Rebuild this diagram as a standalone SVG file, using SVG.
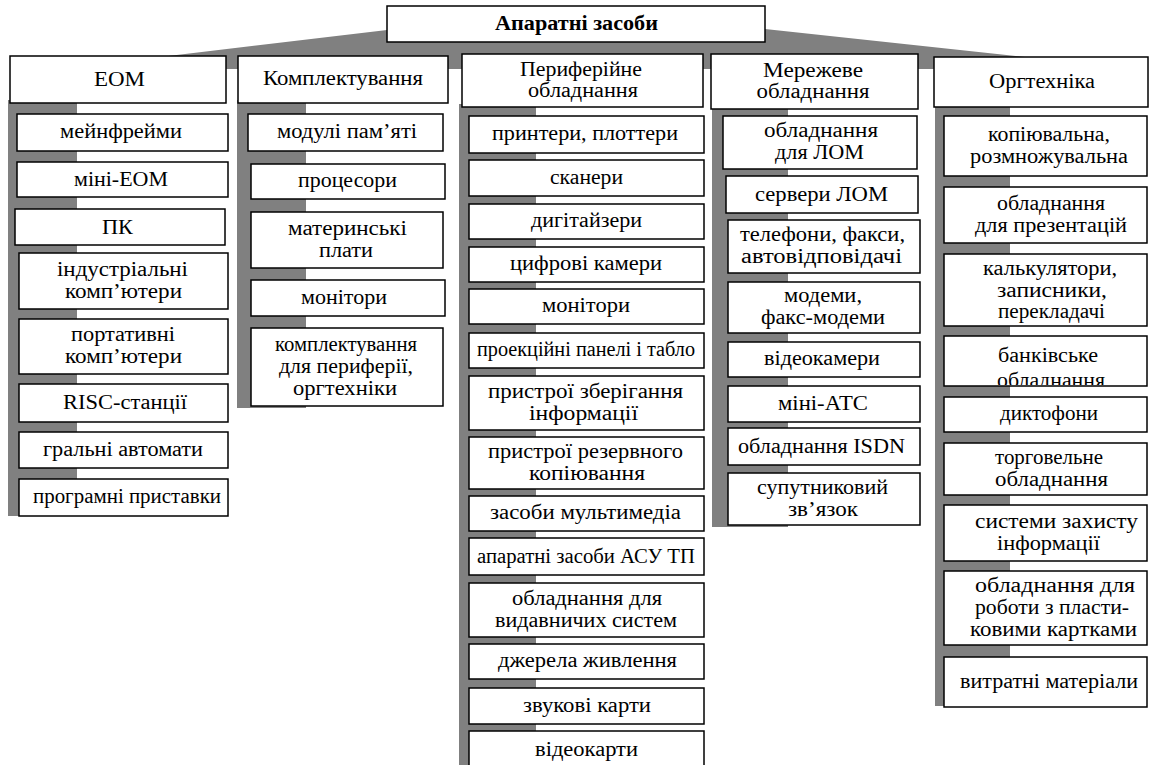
<svg xmlns="http://www.w3.org/2000/svg" width="1150" height="765" viewBox="0 0 1150 765">
  <style>
    .box{fill:#fff;stroke:#000;stroke-width:1.5}
    .band{fill:#808080}
    text{font-family:"Liberation Serif","DejaVu Serif",serif;font-size:20px;fill:#000;text-anchor:middle}
    .title{font-weight:bold}
  </style>
  <defs>
    <clipPath id="clip-bank"><rect x="945" y="337" width="201" height="48"/></clipPath>
  </defs>
  <rect width="1150" height="765" fill="#fff"/>

  <!-- grey trunk and column spines -->
  <g id="connectors">
    <polygon class="band" points="160,57 387,30 765,29 1025,57 1025,69 160,69"/>
    <rect class="band" x="8" y="100" width="69" height="416"/>
    <rect class="band" x="237" y="100" width="69" height="308"/>
    <rect class="band" x="459" y="104" width="77" height="665"/>
    <rect class="band" x="712" y="105" width="76" height="422"/>
    <rect class="band" x="935" y="104" width="75" height="602"/>
  </g>

  <!-- root -->
  <g id="root">
    <rect class="box" x="387" y="6" width="378" height="36"/>
    <text class="title" x="576.5" y="30" textLength="163" lengthAdjust="spacingAndGlyphs">Апаратні засоби</text>
  </g>

  <!-- column: ЕОМ -->
  <g id="col-eom">
    <rect class="box" x="10" y="56" width="216" height="47"/>
    <text x="119.5" y="86" textLength="51" lengthAdjust="spacingAndGlyphs">ЕОМ</text>
  </g>
  <g id="eom-1"><rect class="box" x="17" y="114" width="211" height="37"/><text x="121" y="138" textLength="122" lengthAdjust="spacingAndGlyphs">мейнфрейми</text></g>
  <g id="eom-2"><rect class="box" x="17" y="162" width="211" height="35"/><text x="121" y="185.5" textLength="94" lengthAdjust="spacingAndGlyphs">міні-ЕОМ</text></g>
  <g id="eom-3"><rect class="box" x="15" y="209" width="210" height="36"/><text x="117.5" y="233.5" textLength="31" lengthAdjust="spacingAndGlyphs">ПК</text></g>
  <g id="eom-4"><rect class="box" x="19" y="253" width="209" height="56"/>
    <text x="122.5" y="275.5" textLength="131" lengthAdjust="spacingAndGlyphs">індустріальні</text>
    <text x="123.5" y="297.5" textLength="117" lengthAdjust="spacingAndGlyphs">комп’ютери</text></g>
  <g id="eom-5"><rect class="box" x="19" y="319" width="209" height="55"/>
    <text x="123" y="341" textLength="104" lengthAdjust="spacingAndGlyphs">портативні</text>
    <text x="123.5" y="363" textLength="117" lengthAdjust="spacingAndGlyphs">комп’ютери</text></g>
  <g id="eom-6"><rect class="box" x="19" y="384" width="209" height="38"/><text x="125" y="409" textLength="124" lengthAdjust="spacingAndGlyphs">RISC-станції</text></g>
  <g id="eom-7"><rect class="box" x="19" y="432" width="209" height="36"/><text x="123" y="455.5" textLength="160" lengthAdjust="spacingAndGlyphs">гральні автомати</text></g>
  <g id="eom-8"><rect class="box" x="19" y="479" width="209" height="37"/><text x="127" y="503" textLength="188" lengthAdjust="spacingAndGlyphs">програмні приставки</text></g>

  <!-- column: Комплектування -->
  <g id="col-parts">
    <rect class="box" x="238" y="56" width="210" height="47"/>
    <text x="343" y="85" textLength="160" lengthAdjust="spacingAndGlyphs">Комплектування</text>
  </g>
  <g id="parts-1"><rect class="box" x="248" y="114" width="195" height="37"/><text x="347" y="138" textLength="140" lengthAdjust="spacingAndGlyphs">модулі пам’яті</text></g>
  <g id="parts-2"><rect class="box" x="251" y="164" width="194" height="35"/><text x="347.5" y="187" textLength="99" lengthAdjust="spacingAndGlyphs">процесори</text></g>
  <g id="parts-3"><rect class="box" x="251" y="212" width="192" height="56"/>
    <text x="347.5" y="234.5" textLength="119" lengthAdjust="spacingAndGlyphs">материнські</text>
    <text x="346" y="256.5" textLength="54" lengthAdjust="spacingAndGlyphs">плати</text></g>
  <g id="parts-4"><rect class="box" x="251" y="280" width="194" height="36"/><text x="344" y="303.5" textLength="86" lengthAdjust="spacingAndGlyphs">монітори</text></g>
  <g id="parts-5"><rect class="box" x="251" y="328" width="192" height="78"/>
    <text x="346" y="350.5" textLength="142" lengthAdjust="spacingAndGlyphs">комплектування</text>
    <text x="346" y="372.5" textLength="134" lengthAdjust="spacingAndGlyphs">для периферії,</text>
    <text x="345" y="394.5" textLength="104" lengthAdjust="spacingAndGlyphs">оргтехніки</text></g>

  <!-- column: Периферійне обладнання -->
  <g id="col-periph">
    <rect class="box" x="462" y="54" width="241" height="53"/>
    <text x="581" y="76" textLength="122" lengthAdjust="spacingAndGlyphs">Периферійне</text>
    <text x="583" y="97" textLength="110" lengthAdjust="spacingAndGlyphs">обладнання</text>
  </g>
  <g id="periph-1"><rect class="box" x="469" y="116" width="235" height="37"/><text x="585" y="140" textLength="186" lengthAdjust="spacingAndGlyphs">принтери, плоттери</text></g>
  <g id="periph-2"><rect class="box" x="469" y="160" width="235" height="36"/><text x="586.5" y="183.5" textLength="73" lengthAdjust="spacingAndGlyphs">сканери</text></g>
  <g id="periph-3"><rect class="box" x="469" y="204" width="235" height="35"/><text x="586.5" y="227" textLength="111" lengthAdjust="spacingAndGlyphs">дигітайзери</text></g>
  <g id="periph-4"><rect class="box" x="469" y="247" width="235" height="35"/><text x="586" y="270" textLength="152" lengthAdjust="spacingAndGlyphs">цифрові камери</text></g>
  <g id="periph-5"><rect class="box" x="469" y="289" width="235" height="35"/><text x="586" y="312" textLength="88" lengthAdjust="spacingAndGlyphs">монітори</text></g>
  <g id="periph-6"><rect class="box" x="469" y="333" width="235" height="35"/><text x="586" y="356" textLength="218" lengthAdjust="spacingAndGlyphs">проекційні панелі і табло</text></g>
  <g id="periph-7"><rect class="box" x="469" y="376" width="235" height="54"/>
    <text x="585.5" y="397.5" textLength="195" lengthAdjust="spacingAndGlyphs">пристрої зберігання</text>
    <text x="583.5" y="419.5" textLength="109" lengthAdjust="spacingAndGlyphs">інформації</text></g>
  <g id="periph-8"><rect class="box" x="469" y="437" width="235" height="52"/>
    <text x="585.5" y="457.5" textLength="195" lengthAdjust="spacingAndGlyphs">пристрої резервного</text>
    <text x="587" y="479.5" textLength="116" lengthAdjust="spacingAndGlyphs">копіювання</text></g>
  <g id="periph-9"><rect class="box" x="469" y="496" width="235" height="35"/><text x="585.5" y="519" textLength="191" lengthAdjust="spacingAndGlyphs">засоби мультимедіа</text></g>
  <g id="periph-10"><rect class="box" x="469" y="538" width="235" height="37"/><text x="586" y="562.5" textLength="218" lengthAdjust="spacingAndGlyphs">апаратні засоби АСУ ТП</text></g>
  <g id="periph-11"><rect class="box" x="469" y="583" width="235" height="54"/>
    <text x="587" y="604.5" textLength="150" lengthAdjust="spacingAndGlyphs">обладнання для</text>
    <text x="586" y="626.5" textLength="182" lengthAdjust="spacingAndGlyphs">видавничих систем</text></g>
  <g id="periph-12"><rect class="box" x="469" y="644" width="235" height="35"/><text x="587.5" y="667" textLength="179" lengthAdjust="spacingAndGlyphs">джерела живлення</text></g>
  <g id="periph-13"><rect class="box" x="469" y="688" width="235" height="36"/><text x="587" y="711.5" textLength="128" lengthAdjust="spacingAndGlyphs">звукові карти</text></g>
  <g id="periph-14"><rect class="box" x="469" y="731" width="235" height="40"/><text x="586.5" y="755.5" textLength="103" lengthAdjust="spacingAndGlyphs">відеокарти</text></g>

  <!-- column: Мережеве обладнання -->
  <g id="col-net">
    <rect class="box" x="711" y="54" width="207" height="55"/>
    <text x="813" y="77" textLength="100" lengthAdjust="spacingAndGlyphs">Мережеве</text>
    <text x="813" y="98" textLength="113" lengthAdjust="spacingAndGlyphs">обладнання</text>
  </g>
  <g id="net-1"><rect class="box" x="723" y="116" width="194" height="53"/>
    <text x="821" y="137" textLength="114" lengthAdjust="spacingAndGlyphs">обладнання</text>
    <text x="819.5" y="159" textLength="89" lengthAdjust="spacingAndGlyphs">для ЛОМ</text></g>
  <g id="net-2"><rect class="box" x="726" y="176" width="192" height="37"/><text x="821.5" y="200.5" textLength="133" lengthAdjust="spacingAndGlyphs">сервери ЛОМ</text></g>
  <g id="net-3"><rect class="box" x="728" y="220" width="192" height="53"/>
    <text x="822.5" y="241" textLength="165" lengthAdjust="spacingAndGlyphs">телефони, факси,</text>
    <text x="821.5" y="263" textLength="161" lengthAdjust="spacingAndGlyphs">автовідповідачі</text></g>
  <g id="net-4"><rect class="box" x="728" y="282" width="192" height="51"/>
    <text x="823" y="302" textLength="78" lengthAdjust="spacingAndGlyphs">модеми,</text>
    <text x="823" y="324" textLength="124" lengthAdjust="spacingAndGlyphs">факс-модеми</text></g>
  <g id="net-5"><rect class="box" x="728" y="342" width="192" height="35"/><text x="822" y="365" textLength="116" lengthAdjust="spacingAndGlyphs">відеокамери</text></g>
  <g id="net-6"><rect class="box" x="728" y="386" width="192" height="36"/><text x="823" y="410" textLength="90" lengthAdjust="spacingAndGlyphs">міні-АТС</text></g>
  <g id="net-7"><rect class="box" x="728" y="428" width="192" height="37"/><text x="821.5" y="452.5" textLength="167" lengthAdjust="spacingAndGlyphs">обладнання ISDN</text></g>
  <g id="net-8"><rect class="box" x="728" y="473" width="192" height="52"/>
    <text x="822.5" y="493.5" textLength="131" lengthAdjust="spacingAndGlyphs">супутниковий</text>
    <text x="823" y="515.5" textLength="70" lengthAdjust="spacingAndGlyphs">зв’язок</text></g>

  <!-- column: Оргтехніка -->
  <g id="col-office">
    <rect class="box" x="934" y="57" width="214" height="50"/>
    <text x="1042" y="88" textLength="106" lengthAdjust="spacingAndGlyphs">Оргтехніка</text>
  </g>
  <g id="office-1"><rect class="box" x="944" y="116" width="203" height="60"/>
    <text x="1049" y="140.5" textLength="122" lengthAdjust="spacingAndGlyphs">копіювальна,</text>
    <text x="1049" y="162.5" textLength="158" lengthAdjust="spacingAndGlyphs">розмножувальна</text></g>
  <g id="office-2"><rect class="box" x="944" y="187" width="203" height="56"/>
    <text x="1051" y="209.5" textLength="108" lengthAdjust="spacingAndGlyphs">обладнання</text>
    <text x="1051" y="231.5" textLength="152" lengthAdjust="spacingAndGlyphs">для презентацій</text></g>
  <g id="office-3"><rect class="box" x="944" y="254" width="203" height="72"/>
    <text x="1050" y="275" textLength="134" lengthAdjust="spacingAndGlyphs">калькулятори,</text>
    <text x="1052" y="296.5" textLength="110" lengthAdjust="spacingAndGlyphs">записники,</text>
    <text x="1051.5" y="318" textLength="107" lengthAdjust="spacingAndGlyphs">перекладачі</text></g>
  <g id="office-4"><rect class="box" x="944" y="336" width="203" height="50"/>
    <g clip-path="url(#clip-bank)">
      <text x="1048" y="362" textLength="100" lengthAdjust="spacingAndGlyphs">банківське</text>
      <text x="1051" y="387" textLength="108" lengthAdjust="spacingAndGlyphs">обладнання</text>
    </g></g>
  <g id="office-5"><rect class="box" x="944" y="397" width="203" height="35"/><text x="1049" y="420" textLength="98" lengthAdjust="spacingAndGlyphs">диктофони</text></g>
  <g id="office-6"><rect class="box" x="944" y="443" width="203" height="52"/>
    <text x="1049" y="463.5" textLength="108" lengthAdjust="spacingAndGlyphs">торговельне</text>
    <text x="1051.5" y="485.5" textLength="113" lengthAdjust="spacingAndGlyphs">обладнання</text></g>
  <g id="office-7"><rect class="box" x="944" y="505" width="203" height="56"/>
    <text x="1056.5" y="527.5" textLength="163" lengthAdjust="spacingAndGlyphs">системи захисту</text>
    <text x="1048.5" y="549.5" textLength="103" lengthAdjust="spacingAndGlyphs">інформації</text></g>
  <g id="office-8"><rect class="box" x="944" y="571" width="203" height="74"/>
    <text x="1055" y="591.5" textLength="160" lengthAdjust="spacingAndGlyphs">обладнання для</text>
    <text x="1052" y="613.5" textLength="154" lengthAdjust="spacingAndGlyphs">роботи з пласти-</text>
    <text x="1053.5" y="635.5" textLength="167" lengthAdjust="spacingAndGlyphs">ковими картками</text></g>
  <g id="office-9"><rect class="box" x="944" y="657" width="203" height="50"/><text x="1049" y="688" textLength="178" lengthAdjust="spacingAndGlyphs">витратні матеріали</text></g>
</svg>
